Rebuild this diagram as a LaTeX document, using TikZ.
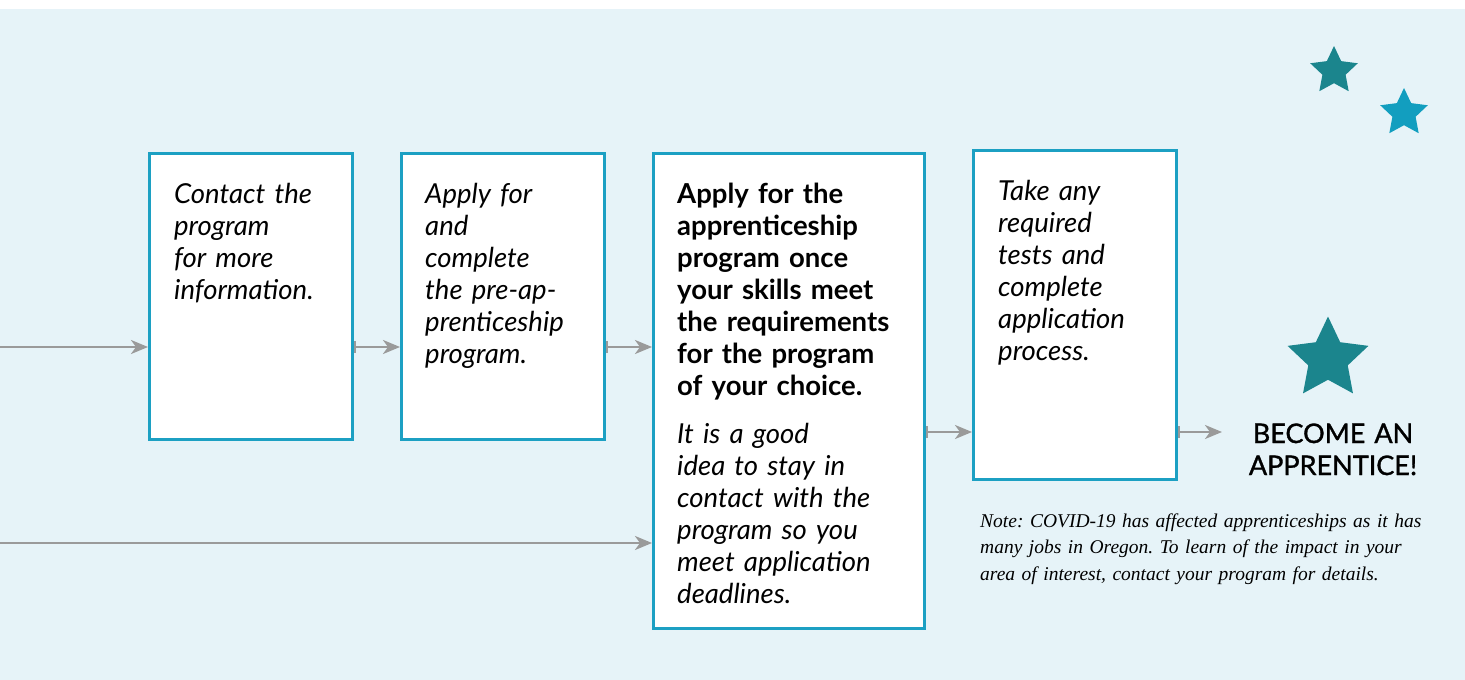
\documentclass[tikz,border=0pt]{standalone}
\usepackage{xcolor}
\usepackage{fontspec}
\setmainfont{Lato}
\newfontfamily\notefont{Liberation Serif}
\newfontfamily\goalfont[FakeBold=1.2]{Lato}
\usetikzlibrary{arrows.meta,shapes.geometric}
\definecolor{bgblue}{HTML}{E6F3F8}
\definecolor{boxblue}{HTML}{1CA0C3}
\definecolor{arrowgray}{HTML}{9A9A9A}
\definecolor{starteal}{HTML}{1B858D}
\definecolor{starcyan}{HTML}{129EBF}
\frenchspacing

\begin{document}
\begin{tikzpicture}[x=1pt,y=-1pt,
  stepbox/.style={draw=boxblue,line width=2.5pt,fill=white,anchor=north west,inner sep=0pt},
  steptext/.style={anchor=base west,align=left,inner sep=0pt,text width=250pt,font=\fontsize{27.5}{32}\selectfont\itshape},
  flow/.style={draw=arrowgray,line width=2.5pt,-{Stealth[length=17pt,width=14pt,inset=5pt]}},
  flowbar/.style={flow,{Bar[width=12pt,line width=2.5pt]}-{Stealth[length=17pt,width=14pt,inset=5pt]}},
  starmark/.style={star,star points=5,star point ratio=2.05,inner sep=0pt,draw=none}]
\useasboundingbox (0,0) rectangle (1465,680);
\fill[white] (0,0) rectangle (1465,680);
\fill[bgblue] (0,9) rectangle (1465,680);

\node (contact) [stepbox,minimum width=203pt,minimum height=286pt] at (148,152) {};
\node (prepare) [stepbox,minimum width=203pt,minimum height=286pt] at (400,152) {};
\node (apply) [stepbox,minimum width=271pt,minimum height=475pt] at (652,152) {};
\node (tests) [stepbox,minimum width=203pt,minimum height=329pt] at (972,149) {};

\node (contact-txt) [steptext] at (174,203) {Contact the\\program\\for more\\information.};
\node (prepare-txt) [steptext] at (425,203) {Apply for\\and\\complete\\the pre-ap-\\prenticeship\\program.};
\node (apply-txt) [steptext,font=\fontsize{27.5}{32}\selectfont\bfseries] at (677,203)
  {Apply for the\\apprenticeship\\program once\\your skills meet\\the requirements\\for the program\\of your choice.};
\node (apply-tip) [steptext] at (677,443) {It is a good\\idea to stay in\\contact with the\\program so you\\meet application\\deadlines.};
\node (tests-txt) [steptext] at (998,200) {Take any\\required\\tests and\\complete\\application\\process.};

\node (goal) [anchor=base,align=center,inner sep=0pt,text width=220pt,font=\fontsize{27}{32}\selectfont\goalfont] at (1333,443) {BECOME AN\\APPRENTICE!};
\node (note) [anchor=base west,align=left,inner sep=0pt,text width=480pt,font=\fontsize{19.5}{26.5}\selectfont\notefont\itshape] at (980,527)
  {Note: COVID-19 has affected apprenticeships as it has\\many jobs in Oregon. To learn of the impact in your\\area of interest, contact your program for details.};

\node (star-a) [starmark,fill=starteal,minimum size=50pt] at (1334,71) {};
\node (star-b) [starmark,fill=starcyan,minimum size=50pt] at (1404,113) {};
\node (star-goal) [starmark,fill=starteal,minimum size=85pt] at (1328,359) {};

\coordinate (in-top) at (0,347);
\coordinate (in-low) at (0,543);
\coordinate (to-goal) at (1222,432);
\draw [flow] (in-top) -- (in-top -| contact.west);
\draw [flowbar] (in-top -| contact.east) -- (in-top -| prepare.west);
\draw [flowbar] (in-top -| prepare.east) -- (in-top -| apply.west);
\draw [flowbar] (to-goal -| apply.east) -- (to-goal -| tests.west);
\draw [flowbar] (to-goal -| tests.east) -- (to-goal);
\draw [flow] (in-low) -- (in-low -| apply.west);
\end{tikzpicture}
\end{document}
